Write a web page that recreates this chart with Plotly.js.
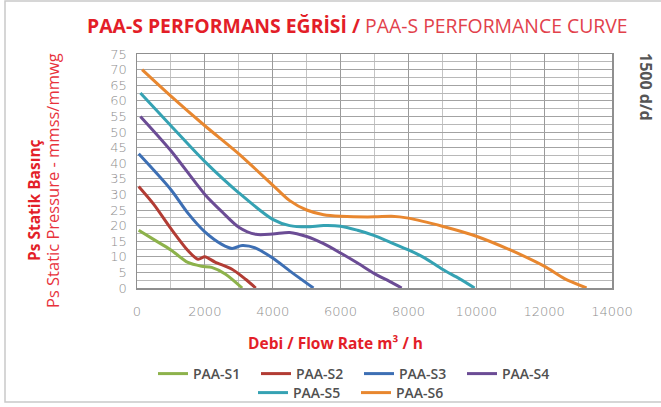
<!DOCTYPE html>
<html>
<head>
<meta charset="utf-8">
<script src="https://cdn.plot.ly/plotly-3.0.1.min.js"></script>
<style>
  html, body { margin: 0; padding: 0; background: #fff; }
  #chart { width: 661px; height: 407px; }
</style>
</head>
<body>
<div id="chart"></div>
<script>
// ---- Data ----
const seriesNames = ["PAA-S1", "PAA-S2", "PAA-S3", "PAA-S4", "PAA-S5", "PAA-S6"];

const s1Flow = [50, 500, 1000, 1500, 1900, 2200, 2600, 3100];
const s1Pres = [18.5, 15.5, 12.2, 8.2, 7.0, 6.6, 4.5, 0];

const s2Flow = [50, 500, 1000, 1500, 1800, 2000, 2300, 2800, 3200, 3500];
const s2Pres = [32.5, 26.7, 19.0, 12.0, 9.2, 10.0, 8.3, 6.0, 2.8, 0];

const s3Flow = [50, 1000, 1500, 2000, 2500, 2800, 3100, 3500, 4000, 4500, 5200];
const s3Pres = [43, 31.5, 24, 18, 14, 12.7, 13.6, 12.8, 9.6, 5.5, 0];

const s4Flow = [100, 1000, 2000, 2500, 3000, 3500, 4000, 4500, 5000, 5500, 6000, 6500, 7000, 7500, 7800];
const s4Pres = [55, 44, 30, 24.5, 19.5, 17.2, 17.3, 17.8, 16.5, 14.2, 11.2, 8.0, 4.6, 1.8, 0];

const s5Flow = [100, 1000, 2000, 3000, 4000, 4500, 5000, 5500, 6000, 6500, 7000, 7500, 8000, 8500, 9000, 9500, 9950];
const s5Pres = [62.5, 52, 40.5, 30.5, 22, 20, 19.6, 20, 19.8, 18.5, 16.8, 14.5, 12.2, 9.5, 6.0, 3.0, 0];

const s6Flow = [150, 1000, 2000, 3000, 4000, 4500, 5000, 5500, 6000, 7000, 7500, 8000, 9000, 10000, 11000, 12000, 12600, 13250];
const s6Pres = [70, 61.5, 52, 43, 33, 28, 25, 23.5, 23, 22.8, 23, 22.4, 19.8, 16.6, 12.2, 7.0, 3.0, 0];

const xTickVals = [0, 2000, 4000, 6000, 8000, 10000, 12000, 14000];
const yTickVals = [0, 5, 10, 15, 20, 25, 30, 35, 40, 45, 50, 55, 60, 65, 70, 75];

// ---- Styling ----
const colors = ["#8db24b", "#b23c34", "#3d6fb4", "#6b4c95", "#35a2b3", "#e8872f"];
const flows = [s1Flow, s2Flow, s3Flow, s4Flow, s5Flow, s6Flow];
const pres = [s1Pres, s2Pres, s3Pres, s4Pres, s5Pres, s6Pres];

const W = 661, H = 407;
const M = { l: 137, r: 49, t: 54, b: 119 };
const pw = W - M.l - M.r, ph = H - M.t - M.b;
const px = x => (x - M.l) / pw;
const py = y => (H - M.b - y) / ph;
const cx = x => x / W;
const cy = y => 1 - y / H;

const traces = seriesNames.map((n, i) => ({
  type: "scatter",
  mode: "lines",
  name: n,
  x: flows[i],
  y: pres[i],
  line: { color: colors[i], width: 3, shape: "spline", smoothing: 0.8 },
  legend: i < 4 ? "legend" : "legend2",
  hoverinfo: "skip"
}));

const tickFont = { family: "'DejaVu Sans', sans-serif", size: 13, color: "#8e8e8e", weight: 200 };
const legFont = { family: "'Open Sans', sans-serif", size: 14, color: "#505050", weight: 600 };

const layout = {
  width: W, height: H,
  margin: M,
  paper_bgcolor: "#fff",
  plot_bgcolor: "#fff",
  showlegend: true,
  xaxis: {
    range: [0, 14000],
    tickvals: xTickVals,
    ticktext: xTickVals.map(String),
    tickfont: tickFont,
    ticks: "outside", ticklen: 11, tickcolor: "rgba(0,0,0,0)",
    showgrid: true, gridcolor: "#9a9a9a", gridwidth: 1,
    minor: { dtick: 1000, showgrid: true, gridcolor: "#c4c4c4", gridwidth: 1 },
    showline: true, linecolor: "#8f8f8f", linewidth: 1.5, mirror: true,
    zeroline: false, fixedrange: true, automargin: false
  },
  yaxis: {
    range: [0, 75],
    tickvals: yTickVals,
    tickfont: tickFont,
    ticks: "outside", ticklen: 6, tickcolor: "rgba(0,0,0,0)",
    showgrid: true, gridcolor: "#a3a3a3", gridwidth: 1,
    minor: { dtick: 2.5, showgrid: true, gridcolor: "#b8b8b8", gridwidth: 1 },
    showline: true, linecolor: "#8f8f8f", linewidth: 1.5, mirror: true,
    zeroline: false, fixedrange: true, automargin: false
  },
  legend: {
    orientation: "h", xref: "container", yref: "container",
    x: cx(153), y: cy(374), xanchor: "left", yanchor: "middle",
    font: legFont, entrywidth: 58, entrywidthmode: "pixels",
    itemwidth: 30, tracegroupgap: 0, bgcolor: "rgba(0,0,0,0)"
  },
  legend2: {
    orientation: "h", xref: "container", yref: "container",
    x: cx(253), y: cy(393), xanchor: "left", yanchor: "middle",
    font: legFont, entrywidth: 58, entrywidthmode: "pixels",
    itemwidth: 30, tracegroupgap: 0, bgcolor: "rgba(0,0,0,0)"
  },
  annotations: [
    {
      xref: "paper", yref: "paper", x: px(357), y: py(25), xanchor: "center", yanchor: "middle",
      showarrow: false,
      text: "<b>PAA-S PERFORMANS EĞRİSİ /</b> <span style=\"color:#e2414b\">PAA-S PERFORMANCE CURVE</span>",
      font: { family: "'Open Sans', sans-serif", size: 19.4, color: "#e31e28" }
    },
    {
      xref: "paper", yref: "paper", x: px(34), y: py(200), xanchor: "center", yanchor: "middle",
      showarrow: false, textangle: -90,
      text: "<b>Ps Statik Basınç</b>",
      font: { family: "'Open Sans', sans-serif", size: 15.5, color: "#e31e28" }
    },
    {
      xref: "paper", yref: "paper", x: px(52), y: py(181), xanchor: "center", yanchor: "middle",
      showarrow: false, textangle: -90,
      text: "Ps Static Pressure - mmss/mmwg",
      font: { family: "'Open Sans', sans-serif", size: 16.5, color: "#e8323c" }
    },
    {
      xref: "paper", yref: "paper", x: px(646), y: py(87), xanchor: "center", yanchor: "middle",
      showarrow: false, textangle: 90,
      text: "<b>1500 d/d</b>",
      font: { family: "'Open Sans', sans-serif", size: 16, color: "#555" }
    },
    {
      xref: "paper", yref: "paper", x: px(335), y: py(343), xanchor: "center", yanchor: "middle",
      showarrow: false,
      text: "<b>Debi / Flow Rate m³ / h</b>",
      font: { family: "'Open Sans', sans-serif", size: 15.5, color: "#e31e28" }
    }
  ],
  shapes: [
    {
      type: "rect", xref: "paper", yref: "paper",
      x0: px(5), x1: px(670), y0: py(402), y1: py(1),
      line: { color: "#c9c9c9", width: 1.5 }, fillcolor: "rgba(0,0,0,0)", layer: "below"
    }
  ]
};

Plotly.newPlot("chart", traces, layout, { staticPlot: true, displayModeBar: false });
</script>
</body>
</html>
